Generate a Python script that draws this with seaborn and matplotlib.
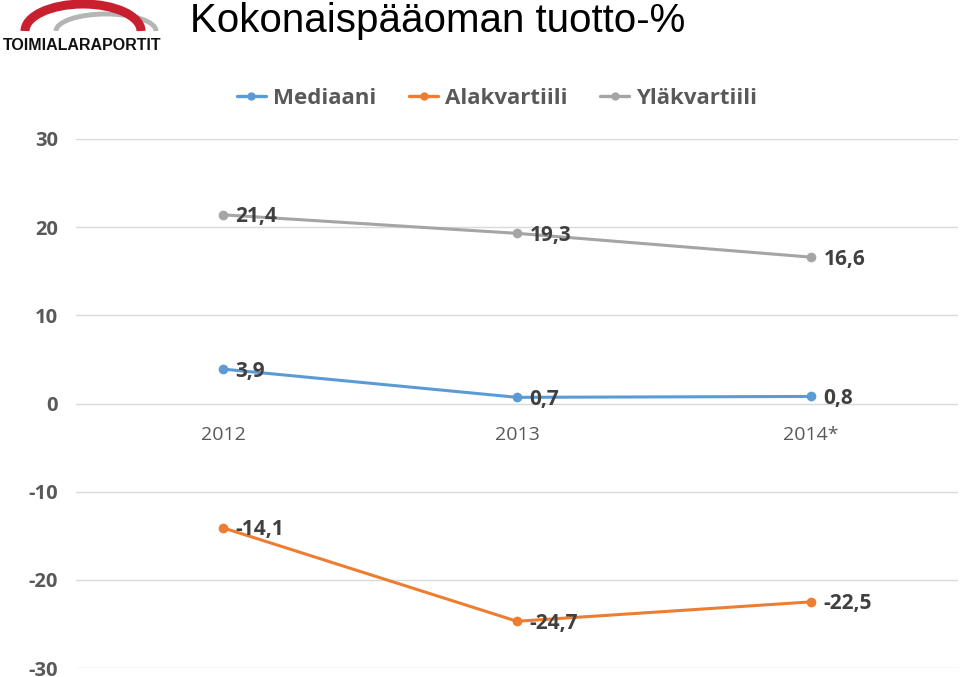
import matplotlib
matplotlib.use("Agg")
import matplotlib.pyplot as plt
import seaborn as sns
import pandas as pd
import numpy as np
from matplotlib.patches import Arc
from matplotlib.lines import Line2D

years = ["2012", "2013", "2014*"]
series_names = ["Mediaani", "Alakvartiili", "Yläkvartiili"]
mediaani = [3.9, 0.7, 0.8]
alakvartiili = [-14.1, -24.7, -22.5]
ylakvartiili = [21.4, 19.3, 16.6]
colors = ["#5B9BD5", "#ED7D31", "#A5A5A5"]
yticks = [-30, -20, -10, 0, 10, 20, 30]

sns.set_theme(style="white")
plt.rcParams['font.family'] = ['Open Sans', 'DejaVu Sans']

rows = []
for name, vals in zip(series_names, [mediaani, alakvartiili, ylakvartiili]):
    for i, (y, v) in enumerate(zip(years, vals)):
        rows.append({"x": i, "year": y, "value": v, "series": name})
df = pd.DataFrame(rows)

fig = plt.figure(figsize=(9.6, 6.77), dpi=100)
ax = fig.add_axes([76/960, 1-668/677, 882/960, (668-139)/677])

sns.lineplot(data=df, x="x", y="value", hue="series", hue_order=series_names,
             palette=colors, marker="o", markersize=7, markeredgewidth=0,
             linewidth=2.2, ax=ax, legend=False)

ax.set_xlim(-0.5, 2.5)
ax.set_ylim(-30, 30)
ax.set_yticks(yticks)
ax.set_yticklabels([str(t) for t in yticks], fontsize=14.5, fontweight="bold", color="#595959")
ax.set_xticks([])
ax.set_xlabel("")
ax.set_ylabel("")
ax.tick_params(axis="y", length=0, pad=13)
for s in ax.spines.values():
    s.set_visible(False)
for t in yticks:
    ax.axhline(t, color="#D9D9D9", linewidth=1, zorder=0)

# category labels at zero line
for i, y in enumerate(years):
    ax.text(i, -2.5, y, ha="center", va="top", fontsize=14, color="#595959")

# data labels
for name, vals in zip(series_names, [mediaani, alakvartiili, ylakvartiili]):
    for i, v in enumerate(vals):
        ax.annotate(f"{v:.1f}".replace(".", ","), (i, v), xytext=(9, -1.5),
                    textcoords="offset points", ha="left", va="center",
                    fontsize=15, fontweight="bold", color="#404040")

# legend
handles = [Line2D([0], [0], color=c, marker="o", markersize=5, linewidth=2.4)
           for c in colors]
leg = fig.legend(handles, series_names, loc="center", bbox_to_anchor=(497/960, 1-98/677),
                 ncol=3, frameon=False, fontsize=16, handlelength=1.3,
                 columnspacing=1.5, handletextpad=0.3)
for t in leg.get_texts():
    t.set_color("#595959")
    t.set_fontweight("bold")

# title
fig.text(190/960, 1-21/677, "Kokonaispääoman tuotto-%", fontsize=29,
         family=["Liberation Sans", "DejaVu Sans"], color="black", va="center", ha="left")

# logo
lax = fig.add_axes([0, 1-60/677, 180/960, 60/677])
lax.set_xlim(0, 180)
lax.set_ylim(60, 0)
lax.axis("off")
lax.add_patch(Arc((106, 31), 100, 34, theta1=180, theta2=360, color="#B5B5B5", linewidth=3.5))
lax.add_patch(Arc((83, 31), 116, 54, theta1=180, theta2=360, color="#C8202F", linewidth=6.5))
lax.text(82, 46, "TOIMIALARAPORTIT", ha="center", va="center", fontsize=11.5,
         fontweight="bold", color="#111111", family=["Liberation Sans", "DejaVu Sans"])

fig.savefig("out.png", dpi=100, facecolor="white")
